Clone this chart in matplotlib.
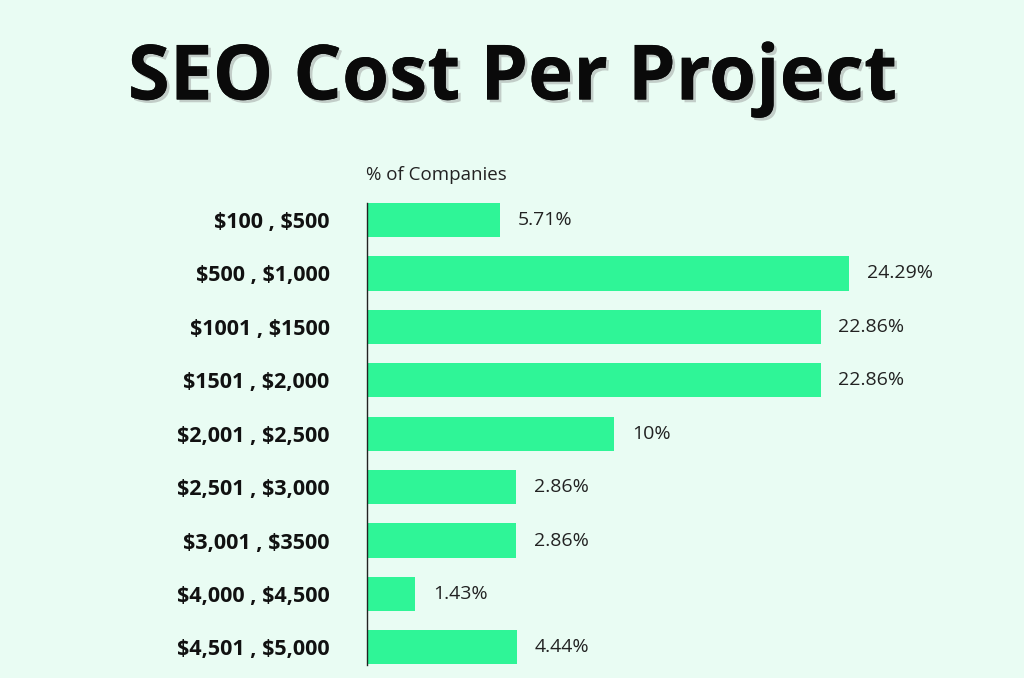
import matplotlib.pyplot as plt
import matplotlib.patheffects as pe

plt.rcParams['text.parse_math'] = False

# price ranges (top to bottom) and the share of companies printed next to each bar
ranges = ['$100 , $500', '$500 , $1,000', '$1001 , $1500', '$1501 , $2,000',
          '$2,001 , $2,500', '$2,501 , $3,000', '$3,001 , $3500',
          '$4,000 , $4,500', '$4,501 , $5,000']
pct_text = ['5.71%', '24.29%', '22.86%', '22.86%', '10%',
            '2.86%', '2.86%', '1.43%', '4.44%']
# bar lengths as drawn in the infographic (same % scale as the 24.29 bar)
bar_len = [6.7, 24.29, 22.86, 22.86, 12.45, 7.5, 7.5, 2.42, 7.55]

bg = '#e9fcf3'
green = '#2ff597'

fig = plt.figure(figsize=(10.24, 6.78), dpi=100, facecolor=bg)

# axes box in pixels: left 367, right 1000, top 203, bottom 665
W, H = 1024.0, 678.0
ax = fig.add_axes([367 / W, 1 - 665 / H, (1000 - 367) / W, (665 - 203) / H])
ax.set_facecolor(bg)

rows = list(range(len(ranges)))
ax.barh(rows, bar_len, height=0.64, color=green, zorder=2)
ax.set_ylim(8.33, -0.318)
ax.set_xlim(0, 31.9)

for r, L, t in zip(rows, bar_len, pct_text):
    ax.text(L + 0.9, r, t, va='center', ha='left', fontsize=14,
            family='Open Sans', color='#222222')

ax.set_yticks(rows)
ax.set_yticklabels(ranges, fontsize=15.5, family='Open Sans', fontweight='bold',
                   color='#111111')
ax.tick_params(axis='y', length=0, pad=27)
ax.set_xticks([])
for s in ['top', 'right', 'bottom']:
    ax.spines[s].set_visible(False)
ax.spines['left'].set_color('#222222')
ax.spines['left'].set_linewidth(1.0)

fig.text(366 / W, 1 - 175 / H, '% of Companies', fontsize=13.5, family='Open Sans',
         color='#222222', va='center', ha='left')

title = fig.text(0.5, 1 - 80 / H, 'SEO Cost Per Project', fontsize=55,
                 family='Open Sans', fontweight='bold', color='#0a0a0a',
                 ha='center', va='center')
title.set_path_effects([pe.withSimplePatchShadow(offset=(2, -2), shadow_rgbFace='#888888', alpha=0.4),
                        pe.Normal()])

fig.savefig('out.png', dpi=100, facecolor=bg)
